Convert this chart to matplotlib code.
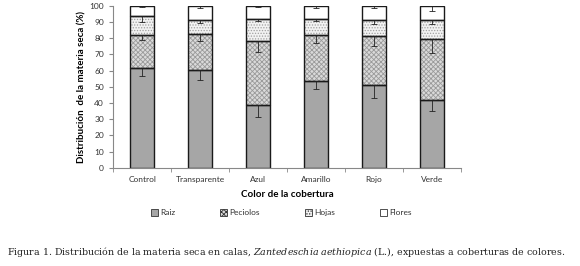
import matplotlib
matplotlib.use("Agg")
import matplotlib.pyplot as plt
from matplotlib.patches import Patch
import numpy as np

plt.rcParams['font.family'] = ['Lato', 'DejaVu Sans']
plt.rcParams['hatch.linewidth'] = 0.6
plt.rcParams['mathtext.fontset'] = 'custom'
plt.rcParams['mathtext.it'] = 'DejaVu Serif:italic'
plt.rcParams['mathtext.rm'] = 'DejaVu Serif'

categories = ["Control", "Transparente", "Azul", "Amarillo", "Rojo", "Verde"]
raiz = [61.4, 60.1, 38.5, 53.7, 51.0, 41.8]
peciolos = [20.3, 22.6, 39.5, 28.2, 30.5, 37.4]
hojas = [11.8, 8.7, 13.6, 9.9, 9.5, 12.2]
flores = [6.5, 8.6, 8.4, 8.2, 9.0, 8.6]
err_raiz = [4.7, 5.8, 7.4, 5.3, 7.8, 6.6]
err_peciolos = [3.0, 4.3, 6.4, 5.1, 6.2, 8.6]
err_hojas = [3.3, 2.0, 1.0, 1.5, 2.5, 2.7]
err_flores = [1.0, 1.5, 1.0, 1.5, 1.6, 3.0]

fig = plt.figure(figsize=(5.8, 2.66), dpi=100)
ax = fig.add_axes([0.195, 0.3695, 0.6, 0.609])

x = np.arange(len(categories))
w = 0.41
# (label, values, errors, facecolor, hatch, hatch colour)
series = [
    ("Raiz", raiz, err_raiz, "#a6a6a6", None, None),
    ("Peciolos", peciolos, err_peciolos, "#dadada", "xxxxxxx", "#9a9a9a"),
    ("Hojas", hojas, err_hojas, "#f2f2f2", "......", "#a0a0a0"),
    ("Flores", flores, err_flores, "white", None, None),
]
handles = []
bottom = np.zeros(len(categories))
for name, vals, errs, fc, hatch, hc in series:
    vals = np.array(vals)
    ax.bar(x, vals, w, bottom=bottom, facecolor=fc, hatch=hatch,
           edgecolor=hc if hc else fc, linewidth=0, zorder=2)
    ax.bar(x, vals, w, bottom=bottom, facecolor="none", edgecolor="#1a1a1a",
           linewidth=1.0, zorder=2.5)
    top = bottom + vals
    ax.errorbar(x, top, yerr=[errs, np.zeros(len(errs))], fmt="none",
                ecolor="#222222", elinewidth=0.6, capsize=2.5, capthick=0.6, zorder=3)
    bottom = top
    handles.append(Patch(facecolor=fc, hatch=hatch, edgecolor="#333333",
                         linewidth=0.6, label=name))

ax.set_xlim(-0.5, 5.5)
ax.set_ylim(0, 100)
ax.set_yticks(range(0, 101, 10))
ax.set_xticks(x)
ax.set_xticklabels(categories)
ax.set_xticks(np.arange(-0.5, 6, 1), minor=True)
ax.tick_params(axis="x", which="major", length=0, labelsize=6, pad=6, labelcolor="#333333")
ax.tick_params(axis="x", which="minor", length=3, color="#888888", direction="out")
ax.tick_params(axis="y", length=3, color="#888888", labelsize=6, labelcolor="#333333")
for s in ["top", "right"]:
    ax.spines[s].set_visible(False)
for s in ["left", "bottom"]:
    ax.spines[s].set_color("#888888")
    ax.spines[s].set_linewidth(0.8)

ax.set_xlabel("Color de la cobertura", fontsize=7, fontweight="bold", labelpad=5)
ax.set_ylabel("Distribución  de la materia seca (%)", fontsize=7, fontweight="bold", labelpad=2)

fig.legend(handles=handles, loc="center", bbox_to_anchor=(0.485, 0.2), ncol=4,
           frameon=False, fontsize=6, handlelength=0.8, handleheight=0.8,
           handletextpad=0.3, columnspacing=5.4, labelcolor="#333333")

caption = ("Figura 1. Distribución de la materia seca en calas, "
           r"$Zantedeschia\ aethiopica$ (L.), expuestas a coberturas de colores.")
fig.text(0.012, 0.04, caption, fontsize=6.8, family="DejaVu Serif", color="#222222")

fig.savefig("out.png", dpi=100)
